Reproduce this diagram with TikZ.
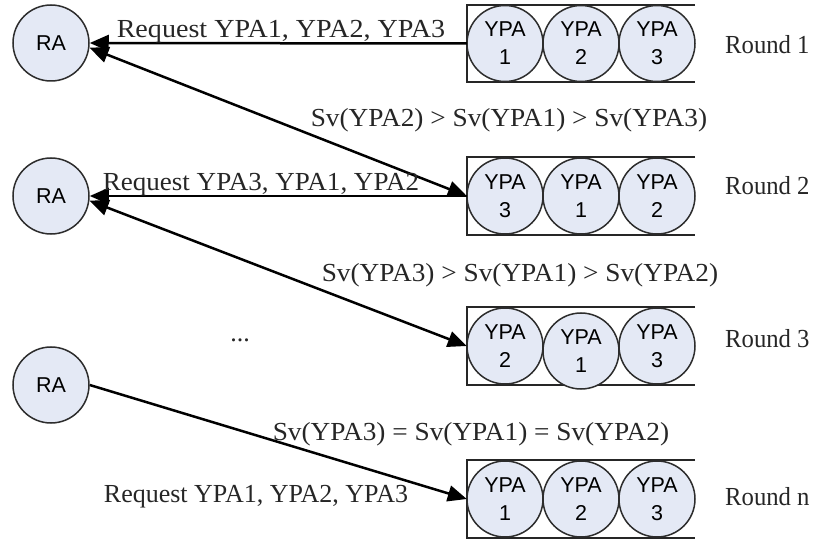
\documentclass[tikz,border=0pt]{standalone}
\usepackage{fontspec}
\setmainfont{Liberation Serif}
\newfontfamily\arialfont{Liberation Sans}
\usetikzlibrary{arrows.meta}
\definecolor{ballfill}{RGB}{228,233,245}
\definecolor{ballline}{RGB}{45,45,45}
\tikzset{
  ball/.style={circle, draw=ballline, line width=1.5pt, fill=ballfill,
    minimum size=76pt, inner sep=0pt, align=center,
    font=\arialfont\fontsize{21.5}{28}\selectfont},
  tray/.style={minimum width=228pt, minimum height=77pt, inner sep=0pt},
  trayline/.style={line width=2.2pt, draw=black!85},
  lbl/.style={font=\fontsize{26}{30}\selectfont, inner sep=0pt, text=black!85},
  svlbl/.style={lbl, xscale=1.05},
  roundlbl/.style={lbl, anchor=west, xscale=0.95},
  conn/.style={line width=2.5pt, draw=black},
  tip/.style={-{Triangle[length=19pt,width=16pt]}},
  bothtips/.style={{Triangle[length=19pt,width=16pt]}-{Triangle[length=19pt,width=16pt]}}
}
\begin{document}
\begin{tikzpicture}[x=1pt,y=-1pt]
\useasboundingbox (0,0) rectangle (817,540);

% request agents
\node[ball] (ra1) at (51,43) {RA};
\node[ball] (ra2) at (51,196) {RA};
\node[ball] (ra3) at (51,385) {RA};

% trays of YPAs, one per round
\node[tray] (b1) at (581,43.5) {};
\node[tray] (b2) at (581,196) {};
\node[tray] (b3) at (581,346) {};
\node[tray] (b4) at (581,499) {};
\foreach \b in {b1,b2,b3,b4}
  \draw[trayline] (\b.north east) -- (\b.north west) -- (\b.south west) -- (\b.south east);

\node[ball] (y11) at (505,43.5) {YPA\\1};
\node[ball] (y12) at (581,43.5) {YPA\\2};
\node[ball] (y13) at (657,43.5) {YPA\\3};

\node[ball] (y21) at (505,196) {YPA\\3};
\node[ball] (y22) at (581,196) {YPA\\1};
\node[ball] (y23) at (657,196) {YPA\\2};

\node[ball] (y31) at (505,346) {YPA\\2};
\node[ball] (y32) at (581,351) {YPA\\1};
\node[ball] (y33) at (657,346) {YPA\\3};

\node[ball] (y41) at (505,499) {YPA\\1};
\node[ball] (y42) at (581,499) {YPA\\2};
\node[ball] (y43) at (657,499) {YPA\\3};

% round labels
\node[roundlbl] (r1) at (725,45) {Round 1};
\node[roundlbl] (r2) at (725,186) {Round 2};
\node[roundlbl] (r3) at (725,339) {Round 3};
\node[roundlbl] (rn) at (725,497) {Round n};

% connectors
\draw[conn,tip] (b1.west) -- (ra1.east);
\draw[conn,bothtips] (ra1.-7) -- (b2.west);
\draw[conn,tip] (b2.west) -- (ra2.east);
\draw[conn,bothtips] (ra2.-7) -- (b3.west);
\draw[conn,tip] (ra3.east) -- (b4.west);

% connector labels
\node[lbl,xscale=1.08] (q1) at (281,32) {Request YPA1, YPA2, YPA3};
\node[svlbl] (s1) at (509,120) {Sv(YPA2) > Sv(YPA1) > Sv(YPA3)};
\node[lbl,xscale=1.04] (q2) at (261,185) {Request YPA3, YPA1, YPA2};
\node[svlbl] (s2) at (520,275) {Sv(YPA3) > Sv(YPA1) > Sv(YPA2)};
\node[lbl] (dots) at (240,340) {...};
\node[svlbl] (s3) at (471,434) {Sv(YPA3) = Sv(YPA1) = Sv(YPA2)};
\node[lbl] (qn) at (256,497) {Request YPA1, YPA2, YPA3};
\end{tikzpicture}
\end{document}
